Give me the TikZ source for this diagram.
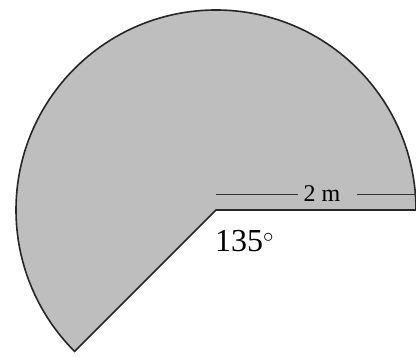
\documentclass[tikz,border=0pt]{standalone}
\usepackage{fontspec}
\setmainfont{Liberation Serif}
\usetikzlibrary{calc}
\definecolor{sectorgray}{RGB}{190,190,190}
\tikzset{
  sector/.style={draw=black!85, line width=1.6pt, fill=sectorgray, line join=miter},
  dimline/.style={draw=black!80, line width=0.8pt},
  lbl/.style={inner sep=0pt}
}
\begin{document}
\begin{tikzpicture}[x=1pt,y=1pt]
\useasboundingbox (0,0) rectangle (416,358);
\coordinate (O) at (216,148);
\coordinate (E) at ($(O)+(0:200)$);
\path[sector] (O) -- (E) arc[start angle=0, end angle=225, radius=200] -- cycle;
\node[lbl, font=\fontsize{24}{24}\selectfont, anchor=base] (len) at (322,156) {2 m};
\coordinate (D1) at (216,164);
\coordinate (D1e) at (298,164);
\coordinate (D2s) at (357,164);
\coordinate (D2) at (416,164);
\draw[dimline] (D1) -- (D1e);
\draw[dimline] (D2s) -- (D2);
\node[lbl, font=\fontsize{32}{32}\selectfont, anchor=base west] (ang) at (215,106) {135$^{\circ}$};
\end{tikzpicture}
\end{document}
